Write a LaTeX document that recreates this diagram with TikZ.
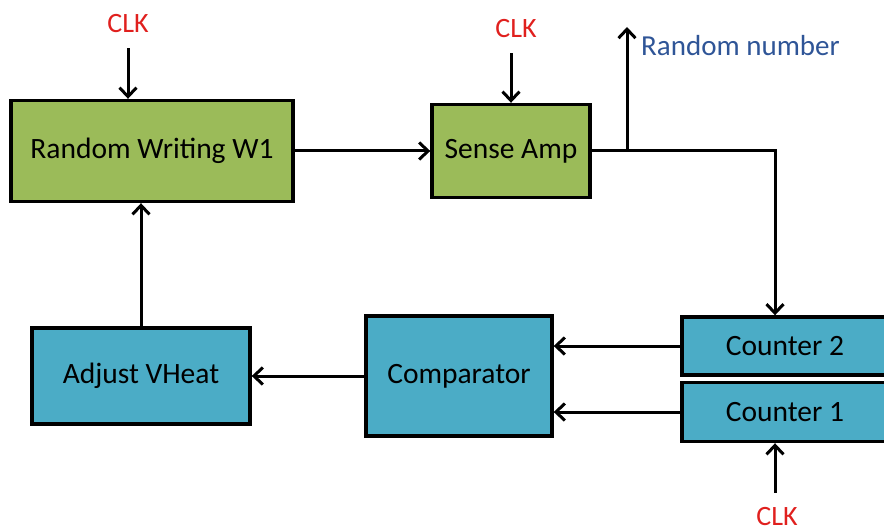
\documentclass[tikz,border=0pt]{standalone}
\usepackage{fontspec}
\setmainfont{Carlito}
\usepackage{tikz}
\usetikzlibrary{arrows.meta}
\definecolor{rngreen}{HTML}{9BBB59}
\definecolor{rnblue}{HTML}{4BACC6}
\definecolor{rnred}{HTML}{E0201E}
\definecolor{rnnavy}{HTML}{2F5597}

\begin{document}
\begin{tikzpicture}[x=1pt,y=-1pt,
  blk/.style={draw=black,line width=3.4pt,inner sep=0pt,font=\fontsize{29.5}{33}\selectfont},
  greenblk/.style={blk,fill=rngreen},
  blueblk/.style={blk,fill=rnblue},
  clk/.style={text=rnred,inner xsep=0pt,inner ysep=15pt,font=\fontsize{28}{31}\selectfont},
  rnlabel/.style={text=rnnavy,inner sep=0pt,font=\fontsize{29}{32}\selectfont},
  sig/.style={line width=3pt,-{Straight Barb[length=9pt,width=17pt]}}]
\useasboundingbox (0,0) rectangle (884,532);
% blocks
\node[greenblk,minimum width=282pt,minimum height=101pt] (rw) at (152,151) {Random Writing W1};
\node[greenblk,minimum width=158pt,minimum height=93pt] (sa) at (511,151) {Sense Amp};
\node[blueblk,minimum width=218pt,minimum height=96pt] (av) at (141,376) {Adjust VHeat};
\node[blueblk,minimum width=186pt,minimum height=120pt] (cmp) at (459,376) {Comparator};
\node[blueblk,minimum width=206pt,minimum height=58pt] (cnt2) at (785,346) {Counter 2};
\node[blueblk,minimum width=206pt,minimum height=59pt] (cnt1) at (785,412) {Counter 1};
% labels
\node[clk] (clk1) at (128,24) {CLK};
\node[clk] (clk2) at (516,29) {CLK};
\node[clk] (clk3) at (777,517) {CLK};
\node[rnlabel,anchor=west] (rnd) at (641,46) {Random number};
\coordinate (tap) at (627,151);
\coordinate (turn) at (775,151);
\coordinate (rout) at (627,27);
% connections
\draw[sig] (clk1.south) -- (clk1.south |- rw.north);
\draw[sig] (clk2.south -| sa.north) -- (sa.north);
\draw[sig] (clk3.north -| turn) -- (cnt1.south -| turn);
\draw[sig] (rw.east) -- (sa.west);
\draw[sig] (sa.east) -- (turn) -- (turn |- cnt2.north);
\draw[sig] (tap) -- (rout);
\draw[sig] (cnt2.west) -- (cnt2.west -| cmp.east);
\draw[sig] (cnt1.west) -- (cnt1.west -| cmp.east);
\draw[sig] (cmp.west) -- (av.east);
\draw[sig] (av.north) -- (av.north |- rw.south);
\end{tikzpicture}
\end{document}
